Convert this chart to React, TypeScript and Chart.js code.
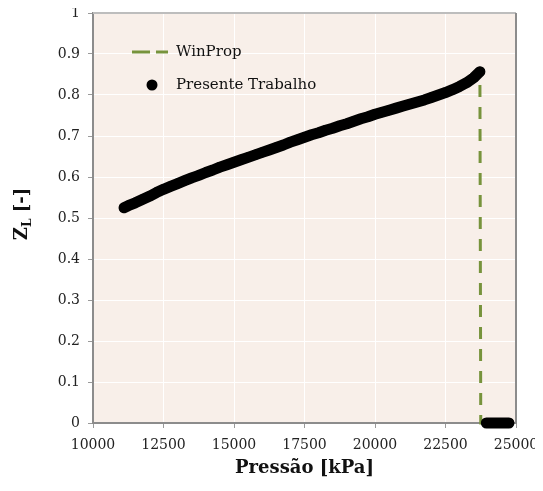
import React, { useEffect, useRef } from "react";
import { Chart, registerables } from "chart.js";

Chart.register(...registerables);

// Presente Trabalho — liquid compressibility factor vs pressure
const pressure = [
  11100, 11250, 11500, 11750, 12000, 12250, 12500, 12750, 13000, 13250,
  13500, 13750, 14000, 14250, 14500, 14750, 15000, 15250, 15500, 15750,
  16000, 16250, 16500, 16750, 17000, 17250, 17500, 17750, 18000, 18250,
  18500, 18750, 19000, 19250, 19500, 19750, 20000, 20250, 20500, 20750,
  21000, 21250, 21500, 21750, 22000, 22250, 22500, 22750, 23000, 23250,
  23500, 23720,
];
const zLiquid = [
  0.525, 0.53, 0.537, 0.545, 0.553, 0.562, 0.57, 0.577, 0.584, 0.591,
  0.598, 0.604, 0.611, 0.617, 0.624, 0.63, 0.636, 0.642, 0.648, 0.654,
  0.66, 0.666, 0.672, 0.678, 0.685, 0.691, 0.697, 0.703, 0.708, 0.714,
  0.719, 0.725, 0.73, 0.736, 0.742, 0.747, 0.753, 0.758, 0.763, 0.768,
  0.773, 0.778, 0.783, 0.788, 0.794, 0.8, 0.806, 0.813, 0.821, 0.83,
  0.842, 0.857,
];
// above the bubble point: no liquid phase
const pressureAbove = [23950, 24100, 24250, 24400, 24550, 24750];
const zAbove = [0, 0, 0, 0, 0, 0];

// WinProp: same curve, drops to zero at the saturation pressure
const winPropDropP = [23750];
const winPropDropZ = [0];

const xMin = 10000;
const xMax = 25000;
const xStep = 2500;
const yMin = 0;
const yMax = 1;
const yStep = 0.1;

const FONT = "'DejaVu Serif', serif";

export default function App() {
  const ref = useRef<HTMLCanvasElement | null>(null);

  useEffect(() => {
    if (!ref.current) return;

    const curve = pressure.map((p, i) => ({ x: p, y: zLiquid[i] }));
    const above = pressureAbove.map((p, i) => ({ x: p, y: zAbove[i] }));
    const drop = winPropDropP.map((p, i) => ({ x: p, y: winPropDropZ[i] }));

    const decor = {
      id: "decor",
      beforeDraw(chart: any) {
        const { ctx, chartArea: a } = chart;
        ctx.save();
        ctx.fillStyle = "#F8EFE9";
        ctx.fillRect(a.left, a.top, a.right - a.left, a.bottom - a.top);
        ctx.restore();
      },
      afterDraw(chart: any) {
        const { ctx, chartArea: a } = chart;
        ctx.save();
        // top & right borders
        ctx.lineWidth = 2;
        ctx.strokeStyle = "#BDBDBD";
        ctx.beginPath();
        ctx.moveTo(a.left, a.top);
        ctx.lineTo(a.right, a.top);
        ctx.stroke();
        ctx.strokeStyle = "#8C8C8C";
        ctx.beginPath();
        ctx.moveTo(a.right, a.top);
        ctx.lineTo(a.right, a.bottom);
        ctx.stroke();

        // legend
        ctx.strokeStyle = "#77933C";
        ctx.lineWidth = 3;
        ctx.setLineDash([18, 6]);
        ctx.beginPath();
        ctx.moveTo(124, 44);
        ctx.lineTo(160, 44);
        ctx.stroke();
        ctx.setLineDash([]);
        ctx.fillStyle = "#000";
        ctx.beginPath();
        ctx.arc(144, 77, 5.5, 0, Math.PI * 2);
        ctx.fill();
        ctx.font = `15px ${FONT}`;
        ctx.textBaseline = "middle";
        ctx.textAlign = "left";
        ctx.fillStyle = "#111";
        ctx.fillText("WinProp", 168, 44);
        ctx.fillText("Presente Trabalho", 168, 77);

        // x title
        ctx.font = `bold 18px ${FONT}`;
        ctx.textAlign = "center";
        ctx.textBaseline = "middle";
        ctx.fillText("Pressão [kPa]", (a.left + a.right) / 2, 460);

        // y title Z_L [-]
        ctx.translate(13, 206);
        ctx.rotate(-Math.PI / 2);
        ctx.textAlign = "left";
        ctx.textBaseline = "alphabetic";
        const big = `bold 18px ${FONT}`;
        const small = `bold 12px ${FONT}`;
        ctx.font = big;
        const wZ = ctx.measureText("Z").width;
        ctx.font = small;
        const wL = ctx.measureText("L").width;
        ctx.font = big;
        const wRest = ctx.measureText(" [-]").width;
        const total = wZ + wL + wRest;
        let x = -total / 2;
        ctx.font = big;
        ctx.fillText("Z", x, 6);
        x += wZ;
        ctx.font = small;
        ctx.fillText("L", x, 10);
        x += wL;
        ctx.font = big;
        ctx.fillText(" [-]", x, 6);
        ctx.restore();
      },
    };

    const blackStyle = {
      borderColor: "#000000",
      borderWidth: 11,
      borderCapStyle: "round",
      borderJoinStyle: "round",
      pointBackgroundColor: "#000000",
      pointBorderWidth: 0,
      pointRadius: 5,
      fill: false,
      order: 1,
      clip: false,
    };

    const chart = new Chart(ref.current, {
      type: "line",
      data: {
        datasets: [
          {
            label: "WinProp",
            data: [...curve, ...drop, ...above],
            borderColor: "#77933C",
            borderWidth: 3,
            borderDash: [12, 10],
            pointRadius: 0,
            fill: false,
            order: 2,
            clip: false,
          } as any,
          { label: "Presente Trabalho", data: curve, ...blackStyle } as any,
          { label: "Presente Trabalho (Z = 0)", data: above, ...blackStyle } as any,
        ],
      },
      options: {
        animation: false,
        responsive: true,
        maintainAspectRatio: false,
        layout: { padding: { top: 4, right: 19, left: 0, bottom: 0 } },
        plugins: { legend: { display: false }, tooltip: { enabled: false } },
        scales: {
          x: {
            type: "linear",
            min: xMin,
            max: xMax,
            ticks: {
              stepSize: xStep,
              font: { family: FONT, size: 14 },
              color: "#222",
              padding: 9,
              maxRotation: 0,
              callback: (v: any) => String(v),
            },
            grid: { color: "#FFFFFF", lineWidth: 1, tickColor: "#9A9A9A", tickLength: 5 },
            border: { color: "#8C8C8C", width: 2 },
            afterFit: (s: any) => {
              s.height = 60;
              s.paddingLeft = 0;
              s.paddingRight = 0;
            },
          },
          y: {
            type: "linear",
            min: yMin,
            max: yMax,
            ticks: {
              stepSize: yStep,
              font: { family: FONT, size: 14 },
              color: "#222",
              padding: 8,
              callback: (v: any) => String(Math.round(v * 10) / 10),
            },
            grid: { color: "#FFFFFF", lineWidth: 1, tickColor: "#9A9A9A", tickLength: 5 },
            border: { color: "#8C8C8C", width: 2 },
            afterFit: (s: any) => {
              s.width = 85;
              s.paddingTop = 0;
              s.paddingBottom = 0;
            },
          },
        },
      } as any,
      plugins: [decor],
    });

    return () => chart.destroy();
  }, []);

  return (
    <div style={{ width: 527, height: 475, position: "relative" }}>
      <canvas ref={ref} />
    </div>
  );
}
